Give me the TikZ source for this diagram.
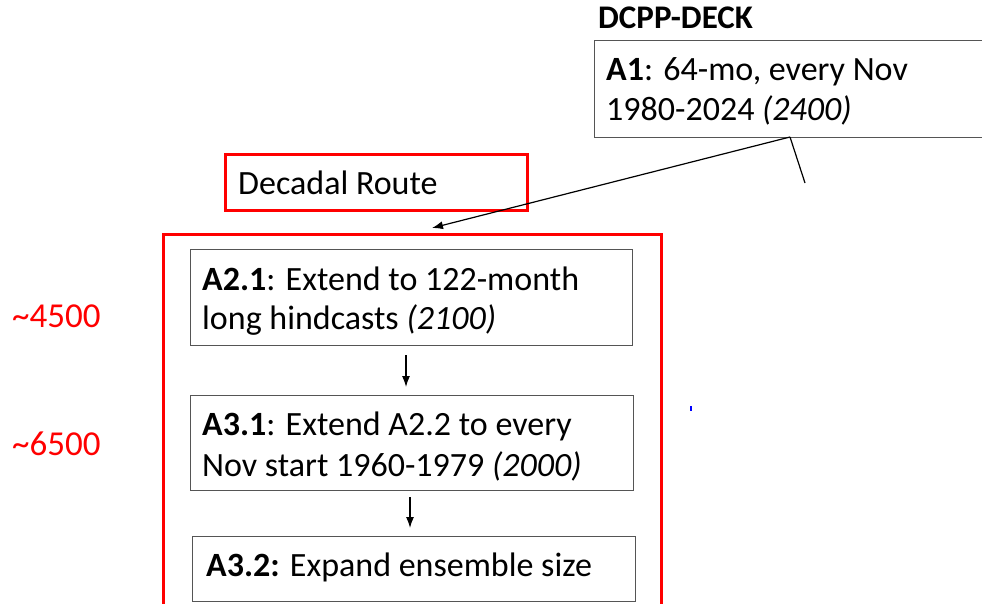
\documentclass[tikz,border=0pt]{standalone}
\usepackage{fontspec}
\setmainfont{Carlito}
\usetikzlibrary{arrows.meta}
\definecolor{boxgray}{HTML}{555555}
\tikzset{
  graybox/.style={draw=boxgray, line width=1.4pt, anchor=north west, inner sep=0pt},
  redbox/.style={draw=red, line width=3pt, anchor=north west, inner sep=0pt},
  txt/.style={anchor=west, inner sep=0pt, font=\fontsize{34}{40}\selectfont},
  redtxt/.style={txt, text=red, font=\fontsize{35}{40}\selectfont},
  flow/.style={-{Latex[length=11pt,width=8pt]}, line width=1.2pt},
  plainline/.style={line width=1.2pt}
}
\begin{document}
\begin{tikzpicture}[x=1pt,y=-1pt]
\useasboundingbox (0,0) rectangle (982,604);
% deck experiment
\node[txt, font=\fontsize{33}{40}\selectfont\bfseries] (deck) at (598,18) {DCPP-DECK};
\node[graybox, minimum width=400pt, minimum height=97pt] (a1) at (594,40) {};
\node[txt] (a1l1) at (606,72) {\textbf{A1}: 64-mo, every Nov};
\node[txt] (a1l2) at (606,110) {1980-2024 \textit{(2400)}};
% route label
\node[redbox, minimum width=302pt, minimum height=56pt] (route) at (224,153) {};
\node[txt] (routetxt) at (238,183) {Decadal Route};
% decadal route frame
\node[redbox, minimum width=498pt, minimum height=400pt] (frame) at (162,233) {};
\node[graybox, minimum width=442pt, minimum height=96pt] (a21) at (190,249) {};
\node[txt] (a21l1) at (202,279) {\textbf{A2.1}: Extend to 122-month};
\node[txt] (a21l2) at (202,320) {long hindcasts \textit{(2100)}};
\node[graybox, minimum width=443pt, minimum height=95pt] (a31) at (190,395) {};
\node[txt] (a31l1) at (202,426) {\textbf{A3.1}: Extend A2.2 to every};
\node[txt] (a31l2) at (202,466) {Nov start 1960-1979 \textit{(2000)}};
\node[graybox, minimum width=443pt, minimum height=65pt] (a32) at (192,536) {};
\node[txt] (a32l1) at (206,567) {\textbf{A3.2:} Expand ensemble size};
% ensemble counts
\node[redtxt] (n4500) at (12,316) {\textasciitilde 4500};
\node[redtxt] (n6500) at (12,444) {\textasciitilde 6500};
% connectors
\coordinate (a1foot) at (790,137);
\coordinate (routein) at (432,228);
\coordinate (openend) at (805,183);
\draw[flow] (a1foot) -- (routein);
\draw[plainline] (a1foot) -- (openend);
\coordinate (s1) at (406,355);
\coordinate (e1) at (406,387);
\coordinate (s2) at (410,497);
\coordinate (e2) at (410,528);
\draw[flow] (s1) -- (e1);
\draw[flow] (s2) -- (e2);
% stray mark
\coordinate (m1) at (691,406);
\coordinate (m2) at (691,411);
\draw[blue, line width=1.5pt] (m1) -- (m2);
\end{tikzpicture}
\end{document}
